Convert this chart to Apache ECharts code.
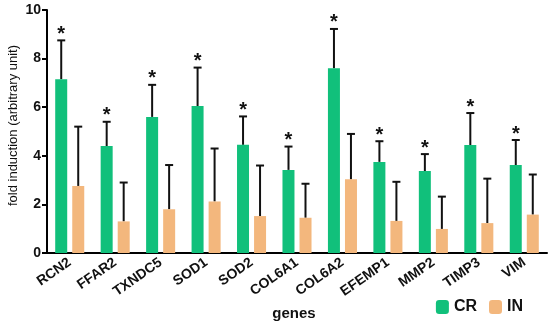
<!DOCTYPE html>
<html><head><meta charset="utf-8">
<script src="https://cdn.jsdelivr.net/npm/echarts@6/dist/echarts.min.js"></script>
<style>html,body{margin:0;padding:0;background:#fff}#c{width:550px;height:322px}</style>
</head><body><div id="c"></div>
<script>
var genes = ['RCN2','FFAR2','TXNDC5','SOD1','SOD2','COL6A1','COL6A2','EFEMP1','MMP2','TIMP3','VIM'];
var crMean = [7.15, 4.4, 5.6, 6.05, 4.45, 3.42, 7.6, 3.75, 3.37, 4.44, 3.62];
var crUpper = [8.75, 5.4, 6.92, 7.63, 5.62, 4.38, 9.22, 4.6, 4.07, 5.76, 4.65];
var inMean = [2.76, 1.3, 1.8, 2.12, 1.52, 1.45, 3.03, 1.32, 0.99, 1.23, 1.58];
var inUpper = [5.2, 2.9, 3.62, 4.3, 3.6, 2.85, 4.9, 2.93, 2.32, 3.06, 3.23];
var crSig = [1,1,1,1,1,1,1,1,1,1,1];
var yTicks = [0, 2, 4, 6, 8, 10];

var font = 'Liberation Sans, Arial, sans-serif';
function errSeries(mean, upper, offset, sig){
  var data = genes.map(function(g,i){return [i, mean[i], upper[i], sig ? sig[i] : 0];});
  return {
    type:'custom', z:1,
    data: data,
    renderItem: function(params, api){
      var i = api.value(0);
      var p0 = api.coord([i, api.value(1)]);
      var p1 = api.coord([i, api.value(2)]);
      var x = p0[0] + offset;
      var children = [
        {type:'line', shape:{x1:x, y1:p0[1], x2:x, y2:p1[1]}, style:{stroke:'#111', lineWidth:2}},
        {type:'line', shape:{x1:x-4, y1:p1[1], x2:x+4, y2:p1[1]}, style:{stroke:'#111', lineWidth:2}}
      ];
      if (api.value(3)) {
        children.push({type:'text', style:{text:'*', x:x, y:p1[1]-6, align:'center', verticalAlign:'middle', font:'bold 20px '+font, fill:'#111'}});
      }
      return {type:'group', children:children};
    }
  };
}
var chart = echarts.init(document.getElementById('c'));
chart.setOption({
  animation:false,
  grid:{left:47, right:3, top:10, bottom:69, containLabel:false, outerBoundsMode:'none'},
  legend:{
    right:22, bottom:2, itemWidth:13, itemHeight:14, itemGap:12,
    data:['CR','IN'],
    textStyle:{fontFamily:font, fontWeight:'bold', fontSize:16, color:'#111'}
  },
  xAxis:{
    type:'category', data:genes,
    name:'genes', nameLocation:'middle', nameGap:53, nameMoveOverlap:false,
    nameTextStyle:{fontFamily:font, fontWeight:'bold', fontSize:15, color:'#111', padding:[0,0,0,-6]},
    axisLine:{lineStyle:{color:'#000', width:2}},
    axisTick:{alignWithLabel:true, length:5, lineStyle:{color:'#000', width:2}},
    axisLabel:{rotate:35, interval:0, fontFamily:font, fontWeight:'bold', fontSize:14, color:'#111', margin:8}
  },
  yAxis:{
    type:'value', min:yTicks[0], max:yTicks[yTicks.length-1], interval:2,
    name:'fold induction (arbitrary unit)', nameLocation:'middle', nameGap:27, nameMoveOverlap:false,
    nameTextStyle:{fontFamily:font, fontSize:13, color:'#111', padding:[0,0,0,12]},
    splitLine:{show:false},
    axisLine:{show:true, lineStyle:{color:'#000', width:2}},
    axisTick:{show:true, length:5, lineStyle:{color:'#000', width:2}},
    axisLabel:{fontFamily:font, fontWeight:'bold', fontSize:14, color:'#111', margin:6}
  },
  series:[
    {name:'CR', type:'bar', data:crMean, barWidth:12, barGap:'42%', itemStyle:{color:'#11C07B'}, z:2},
    {name:'IN', type:'bar', data:inMean, barWidth:12, itemStyle:{color:'#F3B77D'}, z:2},
    errSeries(crMean, crUpper, -8.5, crSig),
    errSeries(inMean, inUpper, 8.5, null)
  ]
});
</script></body></html>
